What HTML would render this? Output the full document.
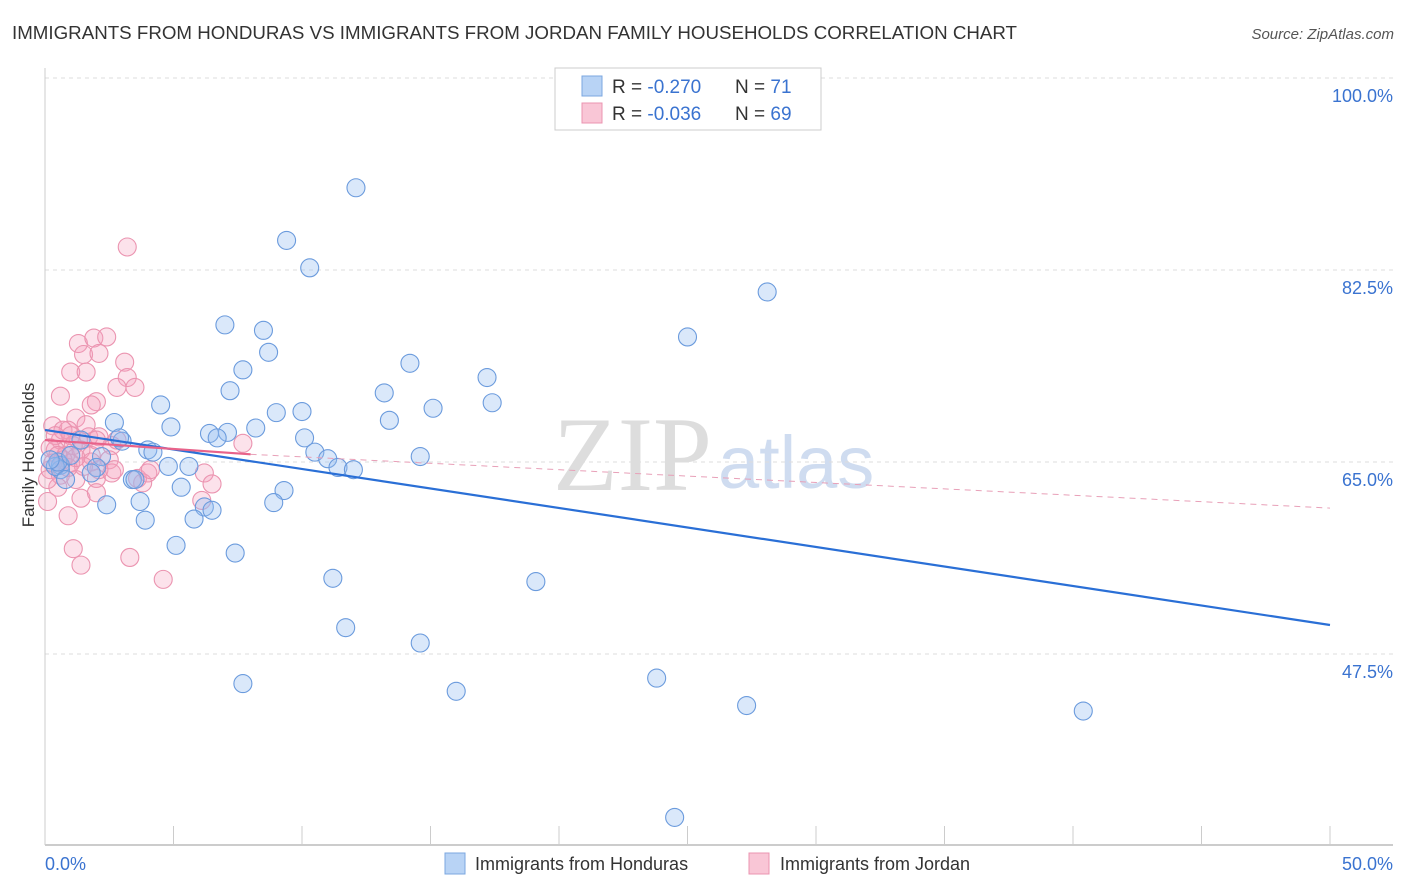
<!DOCTYPE html>
<html><head><meta charset="utf-8"><style>
body{margin:0;background:#fff;font-family:"Liberation Sans",sans-serif;}
svg{display:block}
</style></head><body>
<svg id="chart" width="1406" height="892">
<text x="12" y="39" font-size="18" fill="#333" textLength="1005" lengthAdjust="spacingAndGlyphs">IMMIGRANTS FROM HONDURAS VS IMMIGRANTS FROM JORDAN FAMILY HOUSEHOLDS CORRELATION CHART</text>
<text x="1394" y="39" font-size="15" fill="#555" font-style="italic" text-anchor="end">Source: ZipAtlas.com</text>
<g>
<text x="553" y="490" font-size="106" fill="#ddd" font-family="Liberation Serif,serif">ZIP</text>
<text x="718" y="488" font-size="74" fill="#cfdcf0">atlas</text>
</g>
<g id="grid"></g><g id="axes"></g><g id="marks"></g>
<text transform="translate(34,455) rotate(-90)" font-size="17" fill="#333" text-anchor="middle">Family Households</text>
<g>
<rect x="555" y="68" width="266" height="62" fill="#fff" stroke="#ccc"/>
<rect x="582" y="76" width="20" height="20" fill="#b8d3f5" stroke="#7ba7e0"/>
<rect x="582" y="103" width="20" height="20" fill="#f9c6d6" stroke="#eb94b0"/>
<text x="612" y="93" font-size="19" fill="#333">R = <tspan fill="#3a73d0">-0.270</tspan><tspan x="735">N = </tspan><tspan fill="#3a73d0"> 71</tspan></text>
<text x="612" y="120" font-size="19" fill="#333">R = <tspan fill="#3a73d0">-0.036</tspan><tspan x="735">N = </tspan><tspan fill="#3a73d0">69</tspan></text>
</g>
<g>
<rect x="445" y="853" width="20" height="21" fill="#b8d3f5" stroke="#7ba7e0"/>
<text x="475" y="870" font-size="18" fill="#333">Immigrants from Honduras</text>
<rect x="749" y="853" width="20" height="21" fill="#f9c6d6" stroke="#eb94b0"/>
<text x="780" y="870" font-size="18" fill="#333">Immigrants from Jordan</text>
</g>
</svg>
<script>
const yTicks=[47.5,65.0,82.5,100.0];
const yTickLabels=["47.5%","65.0%","82.5%","100.0%"];
const xTickLabels=["0.0%","50.0%"];
const hondurasX=[12.1,9.4,10.3,28.1,7.0,8.5,25.0,8.7,14.2,7.7,17.2,7.2,13.2,4.5,17.4,15.1,9.0,10.0,13.4,2.7,4.9,7.1,6.4,8.2,6.7,3.0,10.1,4.0,4.2,10.5,2.2,11.0,14.6,11.4,12.0,4.8,5.6,0.6,2.0,1.8,3.4,3.5,5.3,9.3,3.7,2.4,8.9,6.2,6.5,5.8,3.9,5.1,7.4,11.2,19.1,11.7,14.6,7.7,16.0,23.8,27.3,40.4,24.5,0.6,0.4,0.8,0.5,1.0,1.4,0.2,2.9];
const hondurasY=[90.0,85.2,82.7,80.5,77.5,77.0,76.4,75.0,74.0,73.4,72.7,71.5,71.3,70.2,70.4,69.9,69.5,69.6,68.8,68.6,68.2,67.7,67.6,68.1,67.2,66.9,67.2,66.1,65.9,65.9,65.5,65.3,65.5,64.5,64.3,64.6,64.6,64.7,64.5,64.0,63.4,63.4,62.7,62.4,61.4,61.1,61.3,60.9,60.6,59.8,59.7,57.4,56.7,54.4,54.1,49.9,48.5,44.8,44.1,45.3,42.8,42.3,32.6,64.3,64.6,63.4,65.0,65.6,67.0,65.2,67.2];
const jordanX=[3.2,1.3,1.9,2.4,1.5,2.1,3.1,1.0,1.6,3.2,3.5,2.8,0.6,2.0,1.8,1.2,0.3,0.9,0.6,0.4,1.3,1.7,2.1,2.6,0.8,1.4,1.8,2.5,1.0,1.8,0.2,0.6,1.2,2.0,2.6,3.6,4.0,3.8,4.1,0.5,1.4,2.0,0.1,0.9,3.3,1.1,1.4,4.6,6.2,6.1,6.5,7.7,0.7,0.4,1.1,0.2,1.6,0.9,2.1,2.7,0.1,0.7,2.0,1.5,0.5,1.0,2.8,0.3,1.2];
const jordanY=[84.6,75.8,76.3,76.4,74.8,74.9,74.1,73.2,73.2,72.7,71.8,71.8,71.0,70.5,70.2,69.0,68.3,67.9,67.0,66.1,67.0,67.3,67.3,66.5,65.6,66.1,65.6,65.2,64.9,65.0,64.3,63.8,63.4,63.5,64.0,63.5,64.0,63.1,64.3,62.7,61.7,62.2,61.4,60.1,56.3,57.1,55.6,54.3,64.0,61.5,63.0,66.7,67.9,67.4,66.5,66.3,68.4,64.5,64.3,64.3,63.4,65.2,67.0,64.6,65.6,67.4,67.0,64.9,65.4];
const hondurasTrend=[[0,67.92],[50,50.14]];
const jordanTrend=[[0,67.0],[8,65.7],[50,60.8]];

const NS="http://www.w3.org/2000/svg";
const X=v=>45+v*25.7;
const Y=v=>462-(v-65)*10.97;
function mk(parent,tag,attrs){const e=document.createElementNS(NS,tag);for(const k in attrs)e.setAttribute(k,attrs[k]);document.getElementById(parent).appendChild(e);return e;}
yTicks.forEach((t,i)=>{
  const g=mk('grid','line',{x1:45,x2:1393,y1:Y(t),y2:Y(t),stroke:'#ddd','stroke-dasharray':'4,4'});
  
  
  const l=mk('axes','text',{x:1393,y:Y(t)+24,'font-size':18,fill:'#3a73d0','text-anchor':'end'});
  l.textContent=yTickLabels[i];
  
  
});
const ya=mk('axes','line',{x1:45,x2:45,y1:68,y2:845,stroke:'#ccc'});


const xa=mk('axes','line',{x1:45,x2:1393,y1:845,y2:845,stroke:'#bbb','stroke-width':1.5});


for(let i=0;i<=10;i++){
  const t=mk('axes','line',{x1:X(i*5),x2:X(i*5),y1:826,y2:845,stroke:'#ccc'});
  
  
}
const xl0=mk('axes','text',{x:45,y:870,'font-size':18,fill:'#3a73d0'});xl0.textContent=xTickLabels[0];


const xl1=mk('axes','text',{x:1393,y:870,'font-size':18,fill:'#3a73d0','text-anchor':'end'});xl1.textContent=xTickLabels[1];



jordanX.forEach((x,i)=>{
  const c=mk('marks','circle',{cx:X(x),cy:Y(jordanY[i]),r:9,fill:'rgba(245,160,190,0.3)',stroke:'#eb94b0','stroke-width':1.1});
  
  
});
hondurasX.forEach((x,i)=>{
  const c=mk('marks','circle',{cx:X(x),cy:Y(hondurasY[i]),r:9,fill:'rgba(150,190,240,0.35)',stroke:'#6b9bdd','stroke-width':1.1});
  
  
});
const bt=mk('marks','line',{x1:X(hondurasTrend[0][0]),y1:Y(hondurasTrend[0][1]),x2:X(hondurasTrend[1][0]),y2:Y(hondurasTrend[1][1]),stroke:'#2a6fd6','stroke-width':2.2});


const pt=mk('marks','line',{x1:X(jordanTrend[0][0]),y1:Y(jordanTrend[0][1]),x2:X(jordanTrend[1][0]),y2:Y(jordanTrend[1][1]),stroke:'#e8628a','stroke-width':2.2});


const pd=mk('marks','line',{x1:X(jordanTrend[1][0]),y1:Y(jordanTrend[1][1]),x2:X(jordanTrend[2][0]),y2:Y(jordanTrend[2][1]),stroke:'#e8a0b8','stroke-width':1,'stroke-dasharray':'6,5'});


</script>
</body></html>
